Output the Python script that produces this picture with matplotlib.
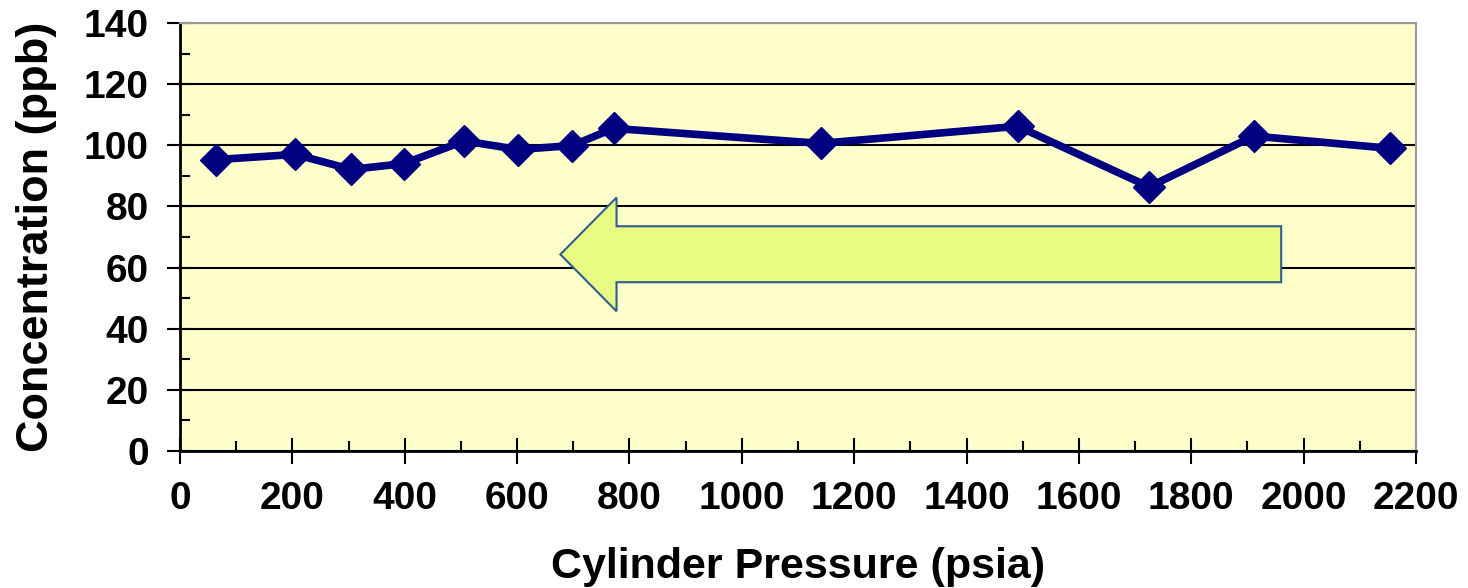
import matplotlib
matplotlib.use('Agg')
import matplotlib.pyplot as plt
from matplotlib.patches import Polygon
from matplotlib.ticker import MultipleLocator

# Cylinder pressure (psia) and measured concentration (ppb)
pressure = [65, 205, 305, 399, 506, 602, 698, 772, 1141, 1491, 1725, 1911, 2153]
concentration = [95.3, 97.0, 92.1, 94.0, 101.4, 98.6, 99.9, 105.5, 100.6, 106.2, 86.4, 103.0, 99.0]

x_ticks = list(range(0, 2201, 200))
y_ticks = list(range(0, 141, 20))

plt.rcParams['font.family'] = ['Liberation Sans', 'DejaVu Sans']
plt.rcParams['font.weight'] = 'bold'

fig = plt.figure(figsize=(14.68, 5.88), dpi=100)
ax = fig.add_axes([0.1226, 0.233, 0.842, 0.728])
ax.set_facecolor('#FFFFCC')

ax.set_xlim(0, 2200)
ax.set_ylim(0, 140)
ax.set_xticks(x_ticks)
ax.set_yticks(y_ticks)
ax.xaxis.set_minor_locator(MultipleLocator(100))
ax.yaxis.set_minor_locator(MultipleLocator(10))
ax.tick_params(which='major', direction='inout', length=19, width=1.5,
               labelsize=28, color='black')
ax.tick_params(which='minor', direction='in', length=7, width=1.5)
ax.tick_params(axis='x', pad=12)
ax.tick_params(axis='y', pad=13)
for lab in ax.get_xticklabels() + ax.get_yticklabels():
    lab.set_fontweight('bold')

ax.grid(axis='y', which='major', color='black', linewidth=1.5)
ax.set_axisbelow(True)
for side in ['left', 'bottom']:
    ax.spines[side].set_color('black')
    ax.spines[side].set_linewidth(2)
for side in ['top', 'right']:
    ax.spines[side].set_color('#999999')
    ax.spines[side].set_linewidth(1.5)

# left-pointing arrow annotation (data coords)
tip_x, head_x, tail_x = 677, 777, 1960
head_lo, body_lo, mid_y, body_hi, head_hi = 45.7, 55.2, 64.3, 73.5, 82.9
arrow = Polygon([(tip_x, mid_y), (head_x, head_hi), (head_x, body_hi),
                 (tail_x, body_hi), (tail_x, body_lo), (head_x, body_lo),
                 (head_x, head_lo)], closed=True, facecolor='#E8FC84',
                edgecolor='#2F5E8E', linewidth=1.5, zorder=2)
ax.add_patch(arrow)

ax.plot(pressure, concentration, color='#000080', linewidth=5.5,
        marker='D', markersize=16.5, zorder=3)

ax.set_xlabel('Cylinder Pressure (psia)', fontsize=31, fontweight='bold', labelpad=22)
ax.set_ylabel('Concentration (ppb)', fontsize=32.5, fontweight='bold', labelpad=19)

fig.savefig('out.png', dpi=100)
